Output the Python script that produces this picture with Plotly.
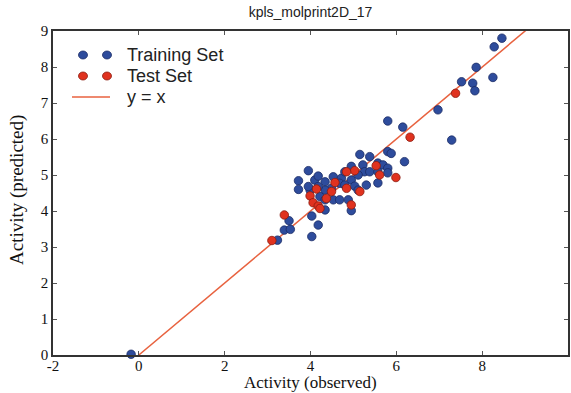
import plotly.graph_objects as go

# Training set (observed, predicted)
train_obs = [8.46, 8.28, 7.86, 7.52, 7.78, 7.83, 8.25, 6.97, 7.29, 5.80, 6.15, 5.15, 5.38, 5.80, 5.88, 6.19,
             3.95, 3.72, 3.72, 4.10, 4.18, 4.34, 4.53, 4.72, 4.95, 5.22, 5.26, 5.57, 5.69, 5.38, 5.57, 5.80,
             5.80, 5.11, 4.95, 4.80, 4.68, 4.49, 4.34, 4.18, 3.99, 3.95, 5.03, 5.11, 5.30, 5.57, 4.22, 4.34,
             4.53, 4.68, 4.88, 4.95, 4.34, 4.03, 4.18, 3.50, 3.39, 3.53, 4.03, 3.23, 4.80, -0.18]
train_pred = [8.80, 8.56, 7.99, 7.59, 7.55, 7.34, 7.71, 6.81, 5.97, 6.50, 6.33, 5.57, 5.51, 5.65, 5.60, 5.37,
              5.12, 4.84, 4.60, 4.86, 4.97, 4.81, 4.95, 4.91, 5.24, 5.28, 5.09, 5.33, 5.28, 5.09, 5.09, 5.19,
              5.06, 5.00, 4.86, 5.09, 4.77, 4.63, 4.58, 4.68, 4.58, 4.68, 4.69, 4.58, 4.72, 4.78, 4.40, 4.31,
              4.31, 4.31, 4.31, 4.01, 4.03, 3.86, 3.61, 3.73, 3.47, 3.49, 3.29, 3.19, 4.72, 0.02]

# Test set (observed, predicted)
test_obs = [7.38, 6.32, 5.53, 5.03, 4.84, 5.61, 5.99, 4.57, 4.14, 4.84, 5.15, 4.49, 3.99, 4.37, 4.06, 4.18,
            4.22, 4.95, 3.39, 3.10]
test_pred = [7.27, 6.05, 5.26, 5.12, 5.09, 5.00, 4.93, 4.79, 4.61, 4.63, 4.54, 4.54, 4.42, 4.35, 4.23, 4.14,
             4.07, 4.17, 3.89, 3.18]

# identity line
line_x = [0, 10]
line_y = [0, 10]

x_ticks = [-2, 0, 2, 4, 6, 8]
y_ticks = [0, 1, 2, 3, 4, 5, 6, 7, 8, 9]

BLUE = "#2E4C9C"
BLUE_EDGE = "#1C2C66"
RED = "#E0321F"
RED_EDGE = "#8A1C10"
LINE = "#E8623F"
SERIF = "Liberation Serif, Times New Roman"
SANS = "Liberation Sans, Arial"

fig = go.Figure()
fig.add_trace(go.Scatter(x=line_x, y=line_y, mode="lines",
                         line=dict(color=LINE, width=1.5), showlegend=False, cliponaxis=True))
fig.add_trace(go.Scatter(x=train_obs, y=train_pred, mode="markers",
                         marker=dict(color=BLUE, size=8.5, line=dict(color=BLUE_EDGE, width=0.8)),
                         showlegend=False, cliponaxis=False))
fig.add_trace(go.Scatter(x=test_obs, y=test_pred, mode="markers",
                         marker=dict(color=RED, size=8.5, line=dict(color=RED_EDGE, width=0.8)),
                         showlegend=False, cliponaxis=False))

# plot area geometry (pixels)
L, R, T, B = 53, 568, 31, 355
W, H = R - L, B - T

def px(x):
    return (x - L) / W

def py(y):
    return (B - y) / H

shapes = []
legend_rows = [("Training Set", 55, BLUE, BLUE_EDGE), ("Test Set", 76, RED, RED_EDGE)]
for label, yy, col, edge in legend_rows:
    for xx in (83, 107):
        shapes.append(dict(type="circle", xref="paper", yref="paper",
                           x0=px(xx - 4.5), x1=px(xx + 4.5), y0=py(yy + 4), y1=py(yy - 4),
                           fillcolor=col, line=dict(color=edge, width=0.8)))
shapes.append(dict(type="line", xref="paper", yref="paper",
                   x0=px(72), x1=px(110), y0=py(97), y1=py(97),
                   line=dict(color=LINE, width=1.5)))

annotations = []
for label, yy in [("Training Set", 55), ("Test Set", 76), ("y = x", 97)]:
    annotations.append(dict(text=label, xref="paper", yref="paper", x=px(125), y=py(yy),
                            xanchor="left", yanchor="middle", showarrow=False,
                            font=dict(family=SANS, size=18, color="#222")))
# axis titles
annotations.append(dict(text="Activity (observed)", xref="paper", yref="paper",
                        x=0.5, y=py(393), xanchor="center", yanchor="bottom", showarrow=False,
                        borderpad=0,
                        font=dict(family=SERIF, size=17, color="#111")))
annotations.append(dict(text="Activity (predicted)", xref="paper", yref="paper",
                        x=px(17), y=py(190), xanchor="center", yanchor="middle", showarrow=False,
                        textangle=-90, font=dict(family=SERIF, size=19, color="#111")))

axis_common = dict(showgrid=False, zeroline=False, showline=True, linecolor="#333", linewidth=1.5,
                   mirror="ticks", ticks="inside", ticklen=4, tickcolor="#555", tickwidth=1,
                   tickfont=dict(family=SERIF, size=15, color="#111"), automargin=False)

fig.update_layout(
    width=571, height=393,
    margin=dict(l=L, r=571 - R, t=T, b=393 - B),
    plot_bgcolor="white", paper_bgcolor="white",
    title=dict(text="kpls_molprint2D_17", x=(L + R) / 2 / 571, xanchor="center",
               y=1 - 12 / 393, yanchor="middle",
               font=dict(family=SANS, size=14, color="#222")),
    xaxis=dict(range=[-2, 10], tickvals=x_ticks, ticktext=[str(v) for v in x_ticks],
               ticklabelstandoff=-4, **axis_common),
    yaxis=dict(range=[0, 9], tickvals=y_ticks, ticktext=[str(v) for v in y_ticks], **axis_common),
    shapes=shapes, annotations=annotations, showlegend=False,
)

fig.write_html("out.html", config={"displayModeBar": False},
               post_script="document.body.style.margin='0';document.body.style.overflow='hidden';")
